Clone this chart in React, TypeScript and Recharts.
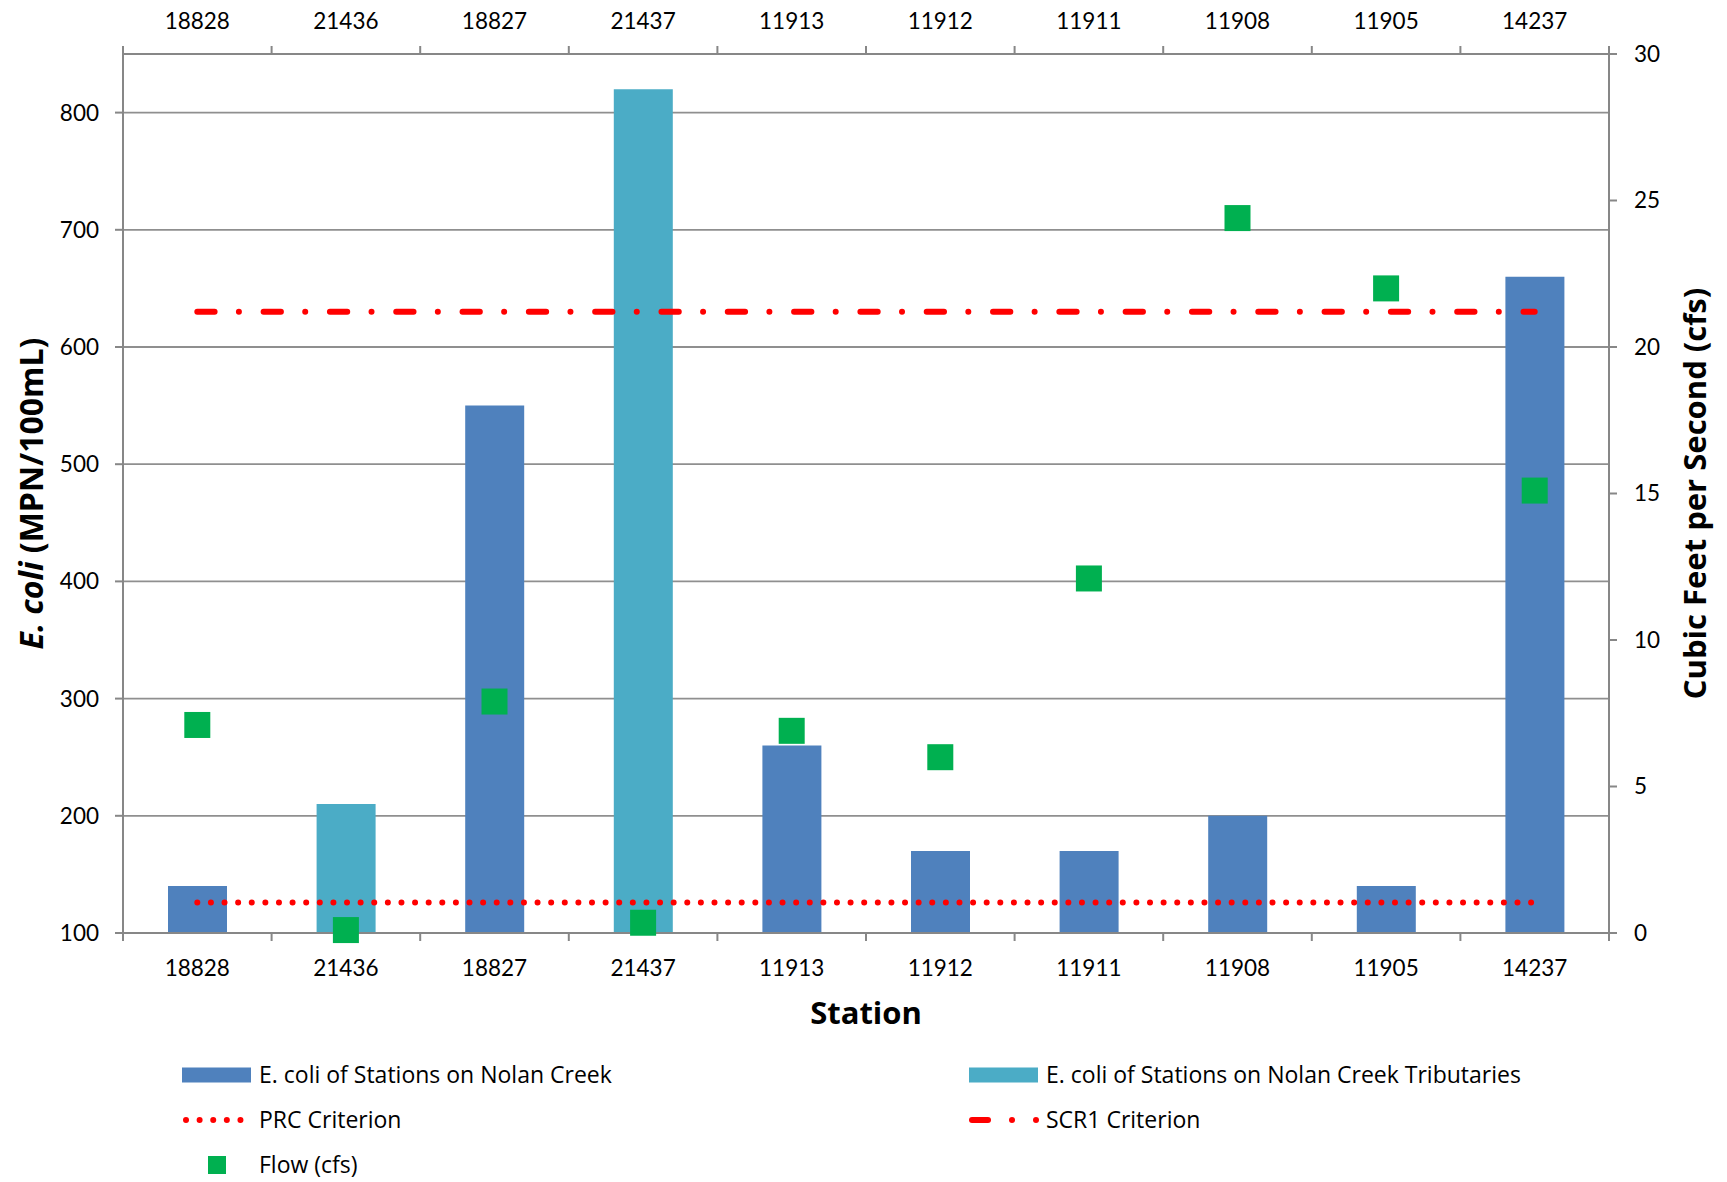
import React from 'react'
import { Bar, CartesianGrid, ComposedChart, Line, XAxis, YAxis } from 'recharts'

const STATIONS = ['18828', '21436', '18827', '21437', '11913', '11912', '11911', '11908', '11905', '14237']
const NOLAN_CREEK = [140, null, 550, null, 260, 170, 170, 200, 140, 660]
const TRIBUTARIES = [null, 210, null, 820, null, null, null, null, null, null]
const FLOW_CFS = [7.1, 0.1, 7.9, 0.35, 6.9, 6.0, 12.1, 24.4, 22.0, 15.1]
const PRC_CRITERION = [126, 126, 126, 126, 126, 126, 126, 126, 126, 126]
const SCR1_CRITERION = [630, 630, 630, 630, 630, 630, 630, 630, 630, 630]

const LEFT_TICKS = [100, 200, 300, 400, 500, 600, 700, 800]
const RIGHT_TICKS = [0, 5, 10, 15, 20, 25, 30]

const W = 1727
const H = 1182
const PLOT_LEFT = 123
const PLOT_RIGHT = 1609
const PLOT_TOP = 54
const PLOT_BOTTOM = 933
const HALF_BAND = (PLOT_RIGHT - PLOT_LEFT) / STATIONS.length / 2

const FONT = "Lato, 'Open Sans', sans-serif"
const TITLE_FONT = "'Open Sans', Lato, sans-serif"
const AXIS_COLOR = '#878787'
const GRID_COLOR = '#8f8f8f'
const NOLAN_COLOR = '#4F81BD'
const TRIB_COLOR = '#4BACC6'
const FLOW_COLOR = '#00B050'
const RED = '#FF0000'

const data = STATIONS.map((station, i) => ({
  station,
  nolan: NOLAN_CREEK[i],
  trib: TRIBUTARIES[i],
  flow: FLOW_CFS[i],
  prc: PRC_CRITERION[i],
  scr1: SCR1_CRITERION[i],
}))

const TICK_TEXT = { fontSize: 22.5, fontFamily: FONT, fill: '#000' }

function CategoryTick(props: any) {
  const { x, y, payload, index, top } = props
  const dir = top ? -1 : 1
  const last = index === STATIONS.length - 1
  return (
    <g>
      <text
        x={x}
        y={y + dir * 34}
        textAnchor="middle"
        dominantBaseline="central"
        {...TICK_TEXT}
      >
        {payload.value}
      </text>
      <line x1={x - HALF_BAND} y1={y} x2={x - HALF_BAND} y2={y + dir * 8} stroke={AXIS_COLOR} strokeWidth={2} />
      {last && (
        <line x1={x + HALF_BAND} y1={y} x2={x + HALF_BAND} y2={y + dir * 8} stroke={AXIS_COLOR} strokeWidth={2} />
      )}
    </g>
  )
}

function FlowSquare(props: any) {
  const { cx, cy } = props
  if (cx == null || cy == null) return null
  return <rect x={cx - 13} y={cy - 13} width={26} height={26} fill={FLOW_COLOR} />
}

const TITLE = { fontFamily: TITLE_FONT, fontWeight: 700, fill: '#000' }

function LeftTitle() {
  const cy = (PLOT_TOP + PLOT_BOTTOM) / 2
  return (
    <text
      x={30}
      y={cy}
      transform={`rotate(-90 30 ${cy})`}
      textAnchor="middle"
      dominantBaseline="central"
      fontSize={32}
      {...TITLE}
    >
      <tspan fontStyle="italic">E. coli</tspan> (MPN/100mL)
    </text>
  )
}

function RightTitle() {
  const cy = (PLOT_TOP + PLOT_BOTTOM) / 2
  return (
    <text
      x={1694}
      y={cy}
      transform={`rotate(-90 1694 ${cy})`}
      textAnchor="middle"
      dominantBaseline="central"
      fontSize={31}
      {...TITLE}
    >
      Cubic Feet per Second (cfs)
    </text>
  )
}

function StationTitle() {
  return (
    <text x={(PLOT_LEFT + PLOT_RIGHT) / 2} y={1012} textAnchor="middle" dominantBaseline="central" fontSize={31} {...TITLE}>
      Station
    </text>
  )
}

const LEGEND_TEXT: React.CSSProperties = {
  position: 'absolute',
  fontFamily: TITLE_FONT,
  fontSize: 23,
  color: '#000',
  lineHeight: '24px',
  whiteSpace: 'nowrap',
}

function LegendItem({ x, y, icon, label }: { x: number; y: number; icon: React.ReactNode; label: string }) {
  return (
    <>
      <div style={{ position: 'absolute', left: x, top: y - 12, width: 72, height: 24 }}>
        <svg width={72} height={24}>{icon}</svg>
      </div>
      <div style={{ ...LEGEND_TEXT, left: x + 77, top: y - 13 }}>{label}</div>
    </>
  )
}

function ChartLegend() {
  const col1 = 182
  const col2 = 969
  const rows = [1075, 1120, 1165]
  return (
    <>
      <LegendItem
        x={col1}
        y={rows[0]}
        label="E. coli of Stations on Nolan Creek"
        icon={<rect x={0} y={4.5} width={69} height={15} fill={NOLAN_COLOR} />}
      />
      <LegendItem
        x={col2}
        y={rows[0]}
        label="E. coli of Stations on Nolan Creek Tributaries"
        icon={<rect x={0} y={4.5} width={69} height={15} fill={TRIB_COLOR} />}
      />
      <LegendItem
        x={col1}
        y={rows[1]}
        label="PRC Criterion"
        icon={
          <line x1={4} y1={12} x2={62} y2={12} stroke={RED} strokeWidth={6} strokeLinecap="round" strokeDasharray="0.01 13.6" />
        }
      />
      <LegendItem
        x={col2}
        y={rows[1]}
        label="SCR1 Criterion"
        icon={
          <g>
            <line x1={3} y1={12} x2={19} y2={12} stroke={RED} strokeWidth={6} strokeLinecap="round" />
            <circle cx={43} cy={12} r={3} fill={RED} />
            <circle cx={67} cy={12} r={3} fill={RED} />
          </g>
        }
      />
      <LegendItem
        x={col1}
        y={rows[2]}
        label="Flow (cfs)"
        icon={<rect x={26} y={3} width={18} height={18} fill={FLOW_COLOR} />}
      />
    </>
  )
}

export default function App() {
  return (
    <div style={{ position: 'absolute', left: 0, top: 0, width: W, height: H, background: '#fff' }}>
      <ComposedChart
        width={W}
        height={H}
        data={data}
        margin={{ top: 0, right: 0, bottom: 0, left: 0 }}
        barSize={59}
        barGap={-59}
      >
        <CartesianGrid yAxisId="left" vertical={false} stroke={GRID_COLOR} strokeWidth={1.8} />
        <XAxis
          xAxisId="top"
          dataKey="station"
          orientation="top"
          height={PLOT_TOP}
          tickSize={0}
          tickMargin={0}
          interval={0}
          tick={(p: any) => <CategoryTick {...p} top />}
          axisLine={{ stroke: AXIS_COLOR, strokeWidth: 2 }}
        />
        <XAxis
          dataKey="station"
          height={H - PLOT_BOTTOM}
          tickSize={0}
          tickMargin={0}
          interval={0}
          tick={(p: any) => <CategoryTick {...p} />}
          axisLine={{ stroke: AXIS_COLOR, strokeWidth: 2 }}
          label={() => <StationTitle />}
        />
        <YAxis
          yAxisId="left"
          width={PLOT_LEFT}
          domain={[100, 850]}
          ticks={LEFT_TICKS}
          allowDataOverflow
          tickSize={8}
          tickMargin={16}
          tick={TICK_TEXT}
          tickLine={{ stroke: AXIS_COLOR, strokeWidth: 2 }}
          axisLine={{ stroke: AXIS_COLOR, strokeWidth: 2 }}
          label={() => <LeftTitle />}
        />
        <YAxis
          yAxisId="right"
          orientation="right"
          width={W - PLOT_RIGHT}
          domain={[0, 30]}
          ticks={RIGHT_TICKS}
          tickSize={8}
          tickMargin={17}
          tick={{ ...TICK_TEXT, textAnchor: 'start' }}
          tickLine={{ stroke: AXIS_COLOR, strokeWidth: 2 }}
          axisLine={{ stroke: AXIS_COLOR, strokeWidth: 2 }}
          label={() => <RightTitle />}
        />
        <Bar yAxisId="left" dataKey="nolan" fill={NOLAN_COLOR} isAnimationActive={false} />
        <Bar yAxisId="left" dataKey="trib" fill={TRIB_COLOR} isAnimationActive={false} />
        <Line
          yAxisId="left"
          dataKey="prc"
          stroke={RED}
          strokeWidth={6}
          strokeLinecap="round"
          strokeDasharray="0.01 13.6"
          dot={false}
          activeDot={false}
          isAnimationActive={false}
        />
        <Line
          yAxisId="left"
          dataKey="scr1"
          stroke={RED}
          strokeWidth={6}
          strokeLinecap="round"
          strokeDasharray="17.3 24.3 0.01 24.7"
          dot={false}
          activeDot={false}
          isAnimationActive={false}
        />
        <Line
          yAxisId="right"
          dataKey="flow"
          stroke="none"
          dot={(p: any) => <FlowSquare key={p.index} {...p} />}
          activeDot={false}
          isAnimationActive={false}
        />
      </ComposedChart>
      <ChartLegend />
    </div>
  )
}
